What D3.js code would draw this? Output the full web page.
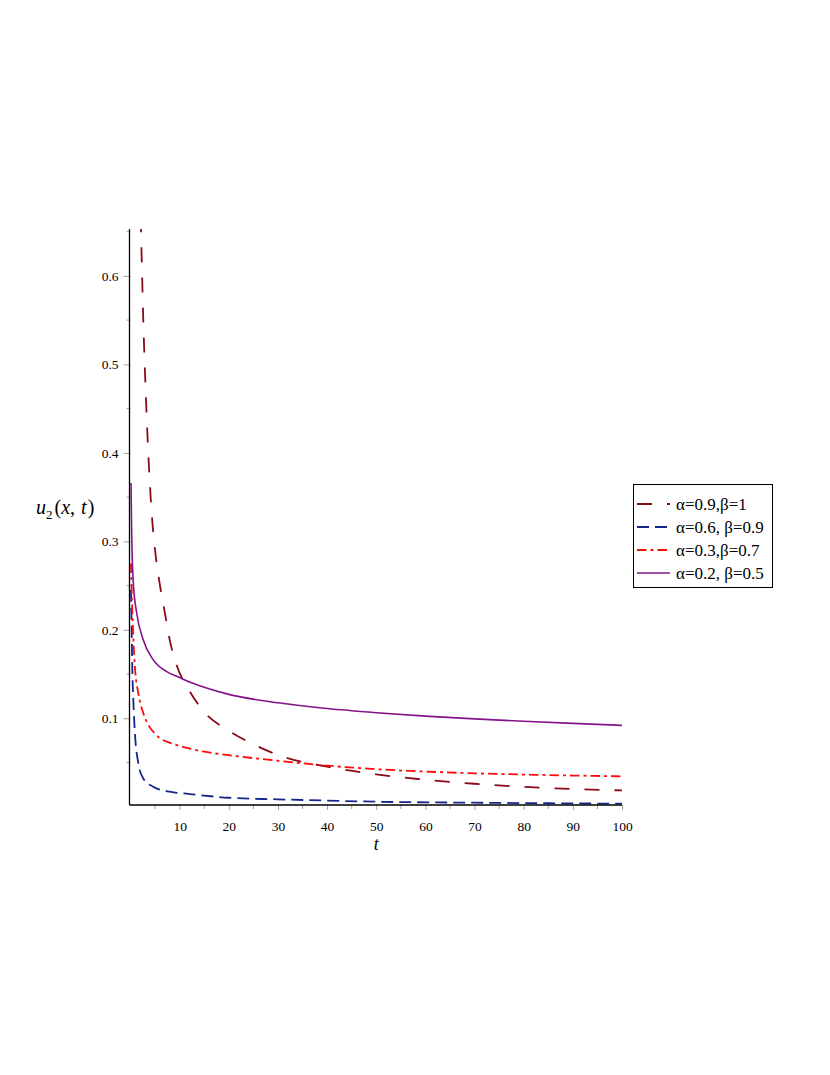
<!DOCTYPE html>
<html>
<head>
<meta charset="utf-8">
<script src="https://cdn.jsdelivr.net/npm/d3@7"></script>
<style>
  body { margin: 0; background: #fff; }
  svg { display: block; font-family: "Liberation Serif", "Times New Roman", serif; }
</style>
</head>
<body>
<script>
// values, t -> u2
const tRed9 = [1.9, 2.13, 2.6, 3.15, 4.3, 5, 6, 7, 8, 9.4, 12, 14.7, 20, 25, 30, 40, 50, 60, 70, 80, 90, 100];
const uRed9 = [0.70, 0.652, 0.55, 0.461, 0.333, 0.29, 0.25, 0.219, 0.188, 0.160, 0.131, 0.109, 0.086, 0.0706, 0.0585, 0.0453, 0.0367, 0.0305, 0.026, 0.0225, 0.020, 0.0185];

const tBlue = [0.1, 0.25, 0.36, 0.57, 0.9, 1.6, 2.6, 4.6, 8, 12, 20, 30, 40, 50, 70, 100];
const uBlue = [0.245, 0.196, 0.158, 0.121, 0.083, 0.049, 0.032, 0.0227, 0.017, 0.0144, 0.0102, 0.0084, 0.007, 0.0057, 0.0046, 0.0035];

const tRed3 = [0.1, 0.3, 0.6, 0.9, 1.6, 2.6, 3.9, 5, 6, 8.6, 12, 15, 20, 30, 40, 50, 60, 70, 80, 90, 100];
const uRed3 = [0.275, 0.234, 0.188, 0.158, 0.128, 0.106, 0.090, 0.0825, 0.0775, 0.0712, 0.0658, 0.0622, 0.0583, 0.052, 0.0465, 0.0425, 0.0398, 0.0378, 0.0364, 0.0353, 0.0344];

const tPurple = [0.1, 0.24, 0.57, 1.26, 2.6, 4.64, 7.37, 10, 12, 15, 20, 30, 40, 50, 60, 70, 80, 90, 100];
const uPurple = [0.366, 0.309, 0.253, 0.219, 0.1885, 0.166, 0.1527, 0.146, 0.141, 0.135, 0.127, 0.1175, 0.111, 0.1063, 0.1025, 0.0993, 0.0966, 0.0942, 0.092];

const legendLabels = ["α=0.9,β=1", "α=0.6, β=0.9", "α=0.3,β=0.7", "α=0.2, β=0.5"];
const xTicks = [10, 20, 30, 40, 50, 60, 70, 80, 90, 100];
const yTicks = [0.1, 0.2, 0.3, 0.4, 0.5, 0.6];

const series = [
  { t: tRed9, u: uRed9, color: "#8b0a1a", dash: "15,15", width: 1.8 },
  { t: tBlue, u: uBlue, color: "#14268c", dash: "12,6", width: 1.8 },
  { t: tRed3, u: uRed3, color: "#ff0a0a", dash: "9.5,4,3,4", width: 1.8 },
  { t: tPurple, u: uPurple, color: "#85128a", dash: null, width: 1.6 }
];

const W = 830, H = 1075;
const svg = d3.select("body").append("svg").attr("width", W).attr("height", H);

const yMin = 0.002, yMax = 0.653;
const x = d3.scaleLinear().domain([0, 100]).range([130.5, 622]);
const y = d3.scaleLinear().domain([yMin, yMax]).range([805, 229]);

svg.append("clipPath").attr("id", "plotclip")
  .append("rect")
  .attr("x", x(0) - 2).attr("y", y(yMax))
  .attr("width", x(100) - x(0) + 4).attr("height", y(yMin) - y(yMax));

// ticks (gray, outside)
const tickColor = "#a0a0a0";
const xMinor = d3.range(5, 100, 10);
const yMinor = d3.range(0.05, 0.66, 0.1);

const xAxis = d3.axisBottom(x).tickValues(xTicks).tickSize(5).tickPadding(11).tickFormat(d3.format("d"));
const gx = svg.append("g").attr("transform", "translate(0," + y(yMin) + ")").call(xAxis);
gx.select(".domain").remove();
gx.selectAll(".tick line").attr("stroke", tickColor);
gx.selectAll(".tick text").attr("font-family", "Liberation Serif").attr("font-size", 13.5).attr("fill", "#000");
svg.append("g").selectAll("line").data(xMinor).enter().append("line")
  .attr("x1", d => x(d)).attr("x2", d => x(d))
  .attr("y1", y(yMin)).attr("y2", y(yMin) + 4)
  .attr("stroke", tickColor);

const yAxis = d3.axisLeft(y).tickValues(yTicks).tickSize(7).tickPadding(5).tickFormat(d3.format(".1f"));
const gy = svg.append("g").attr("transform", "translate(" + x(0) + ",0)").call(yAxis);
gy.select(".domain").remove();
gy.selectAll(".tick line").attr("stroke", tickColor);
gy.selectAll(".tick text").attr("font-family", "Liberation Serif").attr("font-size", 13.5).attr("fill", "#000");
svg.append("g").selectAll("line").data(yMinor).enter().append("line")
  .attr("x1", x(0) - 4).attr("x2", x(0))
  .attr("y1", d => y(d)).attr("y2", d => y(d))
  .attr("stroke", tickColor);

// curves
const line = d3.line()
  .x(d => x(d[0]))
  .y(d => y(d[1]))
  .curve(d3.curveMonotoneX);

const plot = svg.append("g").attr("clip-path", "url(#plotclip)");
series.forEach(function(s) {
  const pts = s.t.map((t, i) => [t, s.u[i]]);
  plot.append("path")
    .attr("d", line(pts))
    .attr("fill", "none")
    .attr("stroke", s.color)
    .attr("stroke-width", s.width)
    .attr("stroke-dasharray", s.dash);
});

// axis lines
svg.append("line")
  .attr("x1", x(0) - 1).attr("x2", x(0) - 1)
  .attr("y1", y(yMax)).attr("y2", y(yMin))
  .attr("stroke", "#000").attr("stroke-width", 1.3);
svg.append("line")
  .attr("x1", x(0) - 1).attr("x2", x(100))
  .attr("y1", y(yMin)).attr("y2", y(yMin))
  .attr("stroke", "#000").attr("stroke-width", 1.3);

// axis titles
svg.append("text")
  .attr("x", x(50)).attr("y", 850)
  .attr("text-anchor", "middle")
  .attr("font-size", 18).attr("font-style", "italic")
  .text("t");

const yl = svg.append("text").attr("x", 36).attr("y", 514).attr("font-size", 20);
yl.append("tspan").attr("font-style", "italic").text("u");
yl.append("tspan").attr("font-size", 13).attr("dy", 5).text("2");
yl.append("tspan").attr("dy", -5).attr("dx", 2).text("(");
yl.append("tspan").attr("font-style", "italic").text("x");
yl.append("tspan").text(", ");
yl.append("tspan").attr("font-style", "italic").attr("dx", 1).text("t");
yl.append("tspan").attr("dx", 1).text(")");

// legend
const lg = svg.append("g");
lg.append("rect")
  .attr("x", 633.5).attr("y", 484.5).attr("width", 139).attr("height", 103)
  .attr("fill", "#fff").attr("stroke", "#000").attr("stroke-width", 1);
series.forEach(function(s, i) {
  const cy = 504 + i * 23;
  lg.append("line")
    .attr("x1", 637).attr("x2", 670)
    .attr("y1", cy).attr("y2", cy)
    .attr("stroke", s.color).attr("stroke-width", s.width)
    .attr("stroke-dasharray", s.dash);
  lg.append("text")
    .attr("x", 676).attr("y", cy + 5.5)
    .attr("font-size", 17)
    .text(legendLabels[i]);
});
</script>
</body>
</html>
